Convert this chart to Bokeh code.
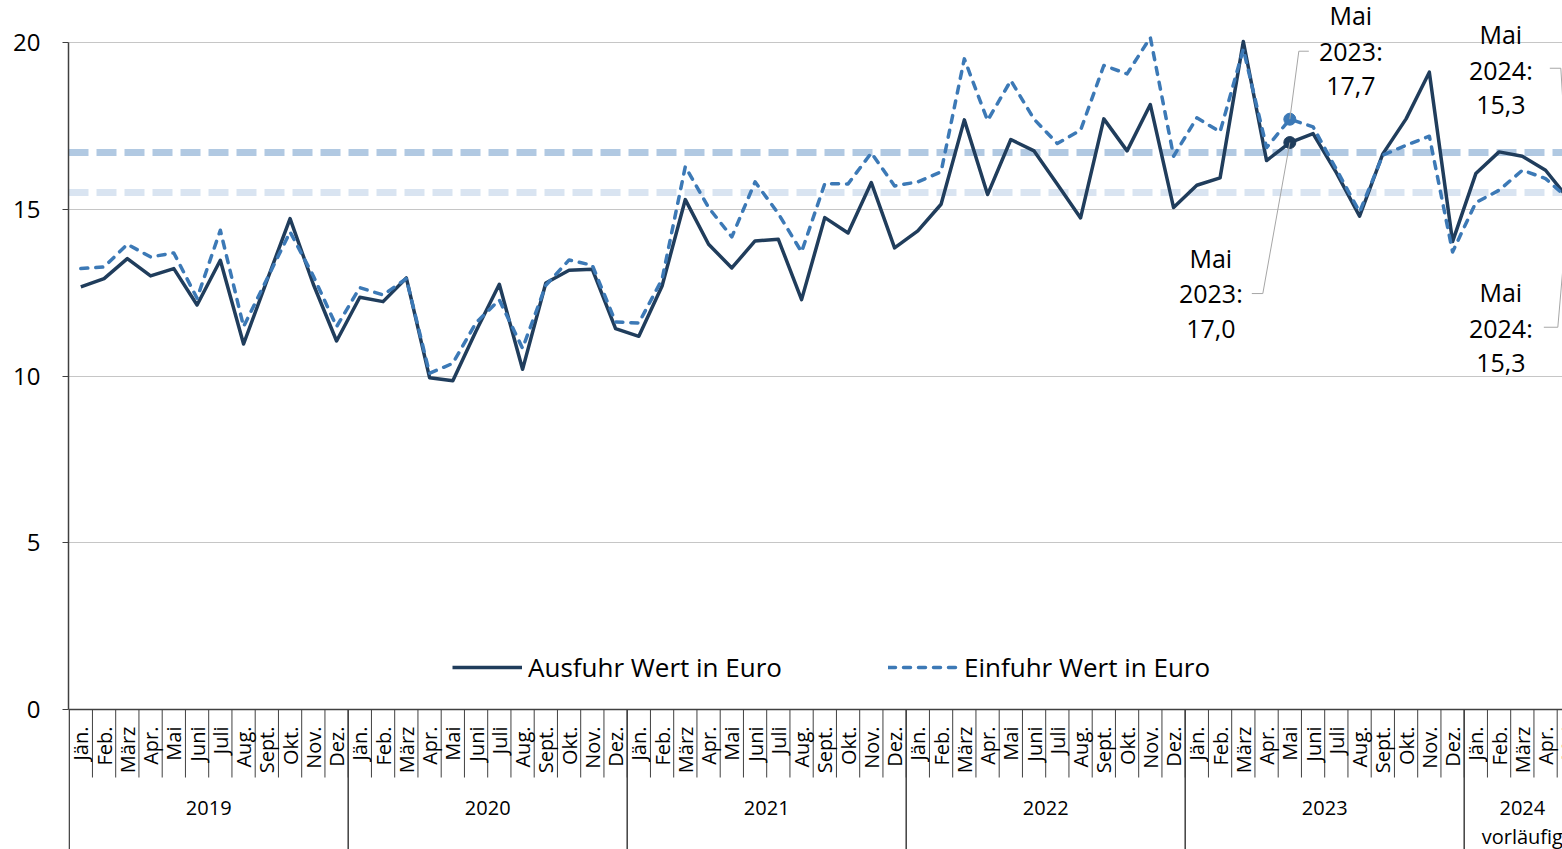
import math
from bokeh.plotting import figure
from bokeh.models import FixedTicker, Span, Legend, LegendItem, Range1d
from bokeh.core.properties import value
from bokeh.embed import file_html
from bokeh.resources import INLINE

# ---------------- data ----------------
month_names = ["Jän.", "Feb.", "März", "Apr.", "Mai", "Juni",
               "Juli", "Aug.", "Sept.", "Okt.", "Nov.", "Dez."]
years = ["2019", "2020", "2021", "2022", "2023", "2024"]
year_months = [12, 12, 12, 12, 12, 5]
year_note = "vorläufig"

ausfuhr = [12.67, 12.92, 13.52, 13.00, 13.22, 12.13, 13.47, 10.96, 12.85, 14.72, 12.75, 11.05,
           12.36, 12.23, 12.94, 9.95, 9.86, 11.35, 12.75, 10.20, 12.79, 13.17, 13.20, 11.42,
           11.19, 12.70, 15.29, 13.95, 13.24, 14.05, 14.10, 12.29, 14.75, 14.29, 15.80, 13.84,
           14.35, 15.15, 17.68, 15.44, 17.09, 16.75, 15.75, 14.74, 17.71, 16.75, 18.14, 15.05,
           15.72, 15.94, 20.03, 16.46, 17.00, 17.27, 16.10, 14.79, 16.66, 17.71, 19.11, 14.03,
           16.07, 16.72, 16.59, 16.17, 15.30]
einfuhr = [13.22, 13.27, 13.95, 13.57, 13.69, 12.33, 14.37, 11.48, 12.90, 14.32, 13.00, 11.48,
           12.65, 12.43, 12.92, 10.08, 10.38, 11.60, 12.28, 10.83, 12.72, 13.48, 13.32, 11.62,
           11.59, 12.90, 16.28, 15.05, 14.17, 15.82, 14.87, 13.72, 15.77, 15.76, 16.69, 15.70,
           15.82, 16.12, 19.51, 17.66, 18.86, 17.70, 16.97, 17.37, 19.31, 19.06, 20.15, 16.59,
           17.74, 17.32, 19.80, 16.85, 17.70, 17.47, 16.20, 14.92, 16.62, 16.92, 17.19, 13.72,
           15.20, 15.57, 16.17, 15.92, 15.30]
ref_upper = 16.7
ref_lower = 15.5
y_ticks = [0, 5, 10, 15, 20]
series_names = ["Ausfuhr Wert in Euro", "Einfuhr Wert in Euro"]

# ---------------- layout ----------------
C_AUS = "#203d5c"
C_EIN = "#3c79b6"
C_REF1 = "#b1c9e2"
C_REF2 = "#d9e4f1"
FONT = value("Open Sans")

W, H = 1562, 849
LEFT = 68
PX_X = 23.25
PX_Y = 33.35
x0 = -0.53
x1 = x0 + (W - LEFT) / PX_X
y1 = 709 / PX_Y
y0 = y1 - H / PX_Y

n = len(ausfuhr)
xs = list(range(n))
labels = [month_names[i % 12] for i in range(n)]

p = figure(width=W, height=H, x_range=Range1d(x0, x1), y_range=Range1d(y0, y1),
           output_backend="svg", toolbar_location=None, x_axis_location=None,
           min_border_left=LEFT, min_border_right=0, min_border_top=0, min_border_bottom=0)
p.outline_line_color = None
p.background_fill_color = "white"
p.xgrid.visible = False
p.ygrid.ticker = FixedTicker(ticks=y_ticks)
p.ygrid.grid_line_color = "#c6c6c6"
p.ygrid.grid_line_width = 1

ax = p.yaxis[0]
ax.ticker = FixedTicker(ticks=y_ticks)
ax.bounds = (0, 20)
ax.axis_line_color = "#404040"
ax.axis_line_width = 1.5
ax.major_tick_line_color = "#404040"
ax.major_tick_out = 6
ax.major_tick_in = 0
ax.minor_tick_line_color = None
ax.major_label_text_font = "Open Sans"
ax.major_label_text_font_size = "24px"
ax.major_label_text_color = "black"
ax.major_label_standoff = 22

# reference lines
for val, col in ((ref_upper, C_REF1), (ref_lower, C_REF2)):
    p.add_layout(Span(location=val, dimension="width", line_color=col, line_width=7,
                      line_dash="20 8", level="underlay"))

# series
r1 = p.line(xs, ausfuhr, line_color=C_AUS, line_width=3.5, line_join="round")
r2 = p.line(xs, einfuhr, line_color=C_EIN, line_width=3.5, line_dash="7 8",
            line_cap="round", line_join="round")

# x axis line
p.add_layout(Span(location=0, dimension="width", line_color="#404040", line_width=1.5))

# category axis: month dividers, year dividers, labels
month_tick_bottom = -(777 - 709) / PX_Y
bounds = [i + 0.5 for i in range(n)]
p.segment(x0=bounds, y0=[0] * n, x1=bounds, y1=[month_tick_bottom] * n,
          line_color="#404040", line_width=1)
year_starts = [sum(year_months[:k]) - 0.5 for k in range(len(years))]
p.segment(x0=year_starts, y0=[0] * len(years), x1=year_starts, y1=[y0] * len(years),
          line_color="#404040", line_width=1.5)

label_top = -(726 - 709) / PX_Y
p.text(x=xs, y=[label_top] * n, text=labels, angle=math.pi / 2, text_align="right",
       text_baseline="middle", text_font=FONT, text_font_size="20px", text_color="black")

year_centers = [sum(year_months[:k]) + (year_months[k] - 1) / 2 for k in range(len(years))]
year_y = -(807 - 709) / PX_Y
p.text(x=year_centers, y=[year_y] * len(years), text=years, text_align="center",
       text_baseline="middle", text_font=FONT, text_font_size="20px", text_color="black")
note_y = -(836 - 709) / PX_Y
p.text(x=[year_centers[-1]], y=[note_y], text=[year_note], text_align="center",
       text_baseline="middle", text_font=FONT, text_font_size="20px", text_color="black")

# legend
legend = Legend(items=[LegendItem(label=series_names[0], renderers=[r1]),
                       LegendItem(label=series_names[1], renderers=[r2])],
                orientation="horizontal", location=(384, 164),
                glyph_width=70, glyph_height=30, label_height=30, label_standoff=6,
                spacing=106, padding=0, margin=0,
                border_line_color=None, background_fill_alpha=0,
                label_text_font="Open Sans", label_text_font_size="26px",
                label_text_color="black")
p.add_layout(legend)

# highlighted points (Mai 2023)
i23 = 52
p.scatter([i23], [einfuhr[i23]], size=12, color=C_EIN)
p.scatter([i23], [ausfuhr[i23]], size=12, color=C_AUS)

# data labels with leader lines
i24 = n - 1
def fmt(v):
    return f"{v:.1f}".replace(".", ",")

def place(ix, v, dx, dy):
    return ix + dx / PX_X, v - dy / PX_Y

ann = [
    (i23, einfuhr[i23], "2023", 61, -104, [(19, -68), (9, -68), (0, 0)]),
    (i23, ausfuhr[i23], "2023", -79, 115, [(-38, 151), (-27, 151), (0, 0)]),
    (i24, einfuhr[i24], "2024", -68, -165, [(-19, -131), (-8, -131), (0, 0)]),
    (i24, ausfuhr[i24], "2024", -68, 93, [(-25, 128), (-11, 128), (0, 0)]),
]
LINE_H = 35.5
for ix, v, yr, dx, dy, leader in ann:
    lines = [month_names[4], yr + ":", fmt(v)]
    tx, ty = [], []
    for k in range(3):
        a, b = place(ix, v, dx, dy + k * LINE_H)
        tx.append(a)
        ty.append(b)
    p.text(x=tx, y=ty, text=lines, text_align="center", text_baseline="middle",
           text_font=FONT, text_font_size="25px", text_color="black")
    lx, ly = zip(*[place(ix, v, a, b) for a, b in leader])
    p.line(list(lx), list(ly), line_color="#a6a6a6", line_width=1)

open("out.html", "w").write(file_html(p, INLINE))
